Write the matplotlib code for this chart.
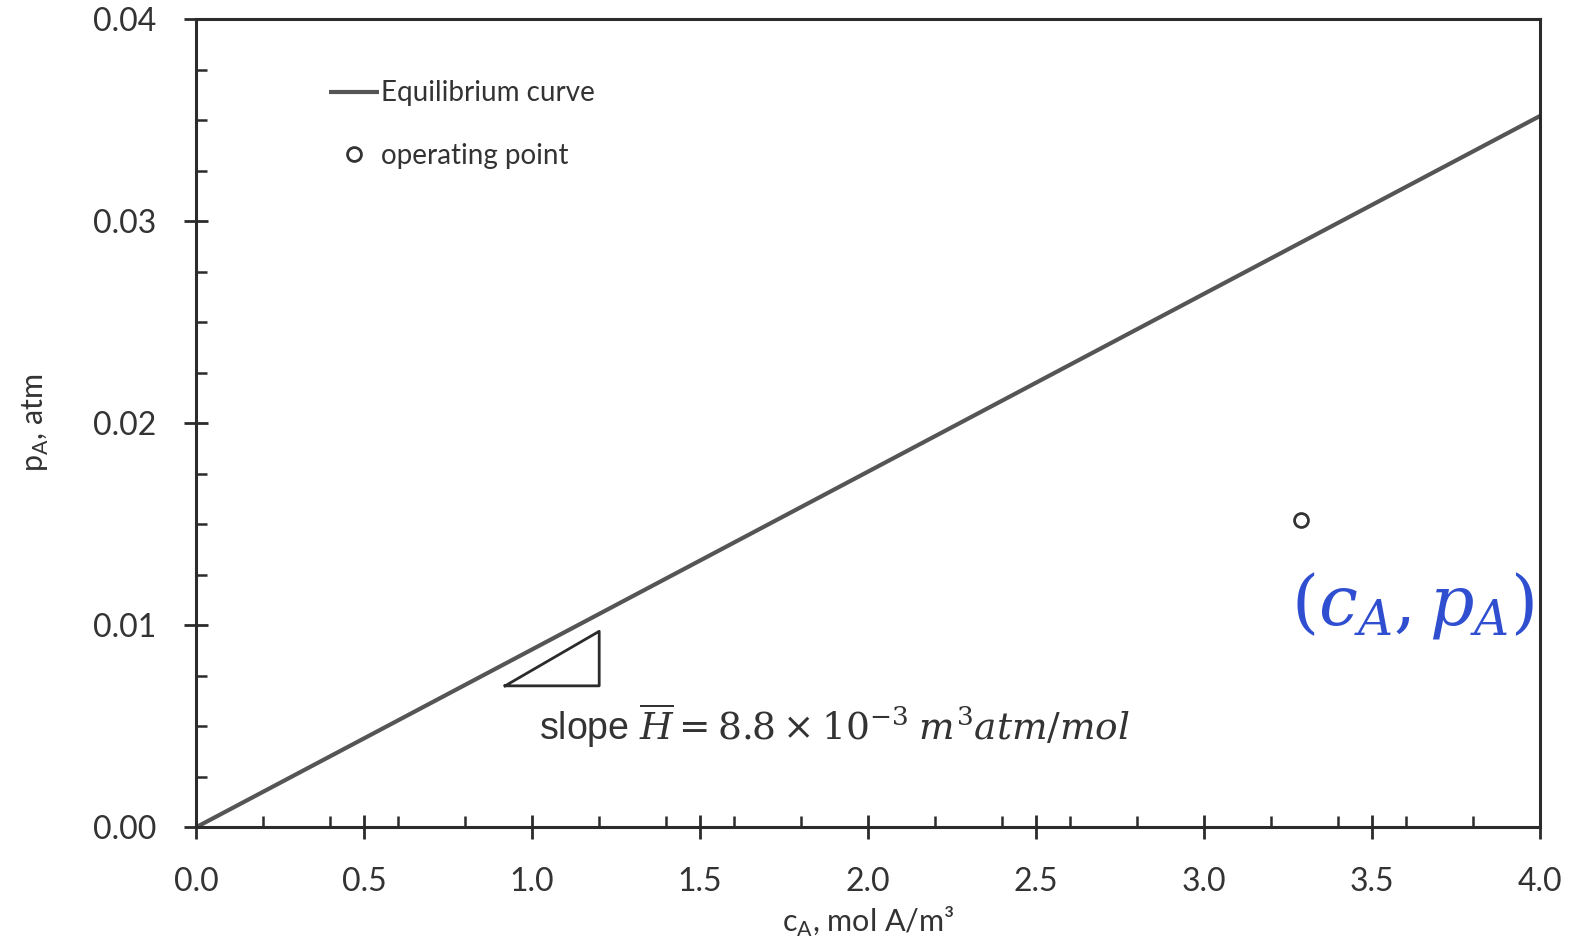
import matplotlib
matplotlib.use("Agg")
import matplotlib.pyplot as plt
from matplotlib.ticker import MultipleLocator, FormatStrFormatter

plt.rcParams["font.family"] = ["Lato", "DejaVu Sans"]
plt.rcParams["mathtext.fontset"] = "dejavuserif"

# equilibrium line end points (c_A, p_A)
eq_ca = [0.0, 4.0]
eq_pa = [0.0, 0.0352]

# operating point
op_ca = [3.29]
op_pa = [0.0152]

# slope triangle
tri_ca = [0.92, 1.20, 1.20, 0.92]
tri_pa = [0.0070, 0.0070, 0.0097, 0.0070]

INK = "#2b2b2b"

fig = plt.figure(figsize=(15.81, 9.52), dpi=100)
ax = fig.add_axes([0.124, 0.131, 0.850, 0.849])

ax.plot(eq_ca, eq_pa, color="#555555", lw=3, solid_capstyle="butt",
        label="Equilibrium curve")
ax.plot(op_ca, op_pa, ls="none", marker="o", ms=10, mfc="white",
        mec="#333333", mew=2, label="operating point")
ax.plot(tri_ca, tri_pa, color=INK, lw=2)

ax.text(1.02, 0.0050, r"slope $\overline{H} = 8.8\times10^{-3}\;m^3atm/mol$",
        fontsize=27, color="#333333", family="Liberation Sans", va="center")
ax.text(3.62, 0.0110, r"$(c_A, p_A)$", fontsize=50, color="#2f4fd0",
        ha="center", va="center")

ax.set_xlim(0, 4)
ax.set_ylim(0, 0.04)
ax.xaxis.set_major_locator(MultipleLocator(0.5))
ax.xaxis.set_minor_locator(MultipleLocator(0.2))
ax.yaxis.set_major_locator(MultipleLocator(0.01))
ax.yaxis.set_minor_locator(MultipleLocator(0.0025))
ax.xaxis.set_major_formatter(FormatStrFormatter("%.1f"))
ax.yaxis.set_major_formatter(FormatStrFormatter("%.2f"))
ax.tick_params(which="major", direction="inout", length=17, width=2,
               color=INK, labelsize=23, labelcolor="#333333", pad=20)
ax.tick_params(which="minor", direction="in", length=8, width=1.8, color=INK)
for s in ax.spines.values():
    s.set_linewidth(2.2)
    s.set_color(INK)

ax.set_xlabel(r"c$_\mathregular{A}$, mol A/m³", fontsize=22, color="#333333",
              labelpad=6)
ax.set_ylabel(r"p$_\mathregular{A}$, atm", fontsize=22, color="#333333",
              labelpad=30)

ax.legend(loc="upper left", bbox_to_anchor=(0.08, 0.955), frameon=False,
          fontsize=20, handlelength=1.8, handletextpad=0.1, labelspacing=1.3,
          labelcolor="#333333")

fig.savefig("out.png", dpi=100, facecolor="white")
